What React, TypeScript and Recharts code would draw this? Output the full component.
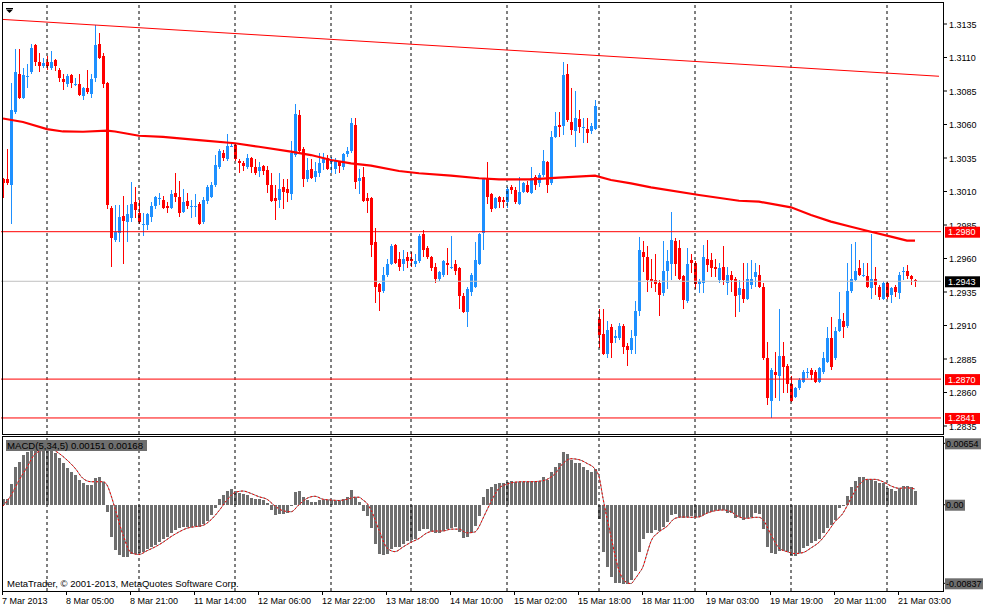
import React from 'react'
import { Bar, ComposedChart, Line, ReferenceLine, XAxis, YAxis } from 'recharts'

// EURUSD H1, 7 Mar 13:00 .. 21 Mar 07:00 2013
const opens = [
  1.3019, 1.3019, 1.3015, 1.3069, 1.3098, 1.3080, 1.3096, 1.3099, 1.3119, 1.3107,
  1.3104, 1.3107, 1.3102, 1.3108, 1.3101, 1.3094, 1.3090, 1.3097, 1.3090, 1.3090,
  1.3081, 1.3087, 1.3083, 1.3095, 1.3120, 1.3111, 1.3091, 1.2998, 1.2974, 1.2979,
  1.2992, 1.2987, 1.2990, 1.3002, 1.2994, 1.2986, 1.2985, 1.2991, 1.2999, 1.3005,
  1.3004, 1.2999, 1.2998, 1.3009, 1.3006, 1.2995, 1.3003, 1.2999, 1.2999, 1.3001,
  1.2987, 1.3003, 1.3006, 1.3015, 1.3028, 1.3039, 1.3034, 1.3044, 1.3045, 1.3033,
  1.3031, 1.3028, 1.3035, 1.3028, 1.3025, 1.3029, 1.3026, 1.3015, 1.3005, 1.3004,
  1.3013, 1.3012, 1.3008, 1.3037, 1.3067, 1.3042, 1.3019, 1.3027, 1.3021, 1.3024,
  1.3031, 1.3035, 1.3032, 1.3027, 1.3032, 1.3028, 1.3038, 1.3040, 1.3060, 1.3018,
  1.3021, 1.3005, 1.3005, 1.2972, 1.2941, 1.2936, 1.2948, 1.2956, 1.2970, 1.2960,
  1.2956, 1.2961, 1.2960, 1.2956, 1.2958, 1.2978, 1.2968, 1.2961, 1.2954, 1.2945,
  1.2948, 1.2957, 1.2954, 1.2956, 1.2953, 1.2932, 1.2920, 1.2935, 1.2939, 1.2956,
  1.2979, 1.3019, 1.3008, 1.2998, 1.3006, 1.3004, 1.3002, 1.3013, 1.3011, 1.3001,
  1.3010, 1.3015, 1.3009, 1.3021, 1.3016, 1.3022, 1.3032, 1.3016, 1.3051, 1.3060,
  1.3059, 1.3098, 1.3062, 1.3055, 1.3064, 1.3058, 1.3057, 1.3055, 1.3057, 1.2915,
  1.2904, 1.2889, 1.2909, 1.2901, 1.2901, 1.2910, 1.2895, 1.2892, 1.2902, 1.2921,
  1.2965, 1.2961, 1.2945, 1.2944, 1.2942, 1.2934, 1.2951, 1.2956, 1.2973, 1.2968,
  1.2947, 1.2928, 1.2959, 1.2957, 1.2941, 1.2942, 1.2960, 1.2959, 1.2954, 1.2944,
  1.2954, 1.2942, 1.2948, 1.2945, 1.2933, 1.2937, 1.2930, 1.2940, 1.2946, 1.2948,
  1.2939, 1.2886, 1.2854, 1.2875, 1.2872, 1.2887, 1.2880, 1.2866, 1.2857, 1.2863,
  1.2868, 1.2875, 1.2877, 1.2875, 1.2868, 1.2875, 1.2883, 1.2901, 1.2886, 1.2906,
  1.2913, 1.2910, 1.2936, 1.2944, 1.2953, 1.2948, 1.2947, 1.2938, 1.2945, 1.2939,
  1.2930, 1.2942, 1.2933, 1.2939, 1.2934, 1.2950, 1.2951, 1.2947, 1.2944,
]

const highs = [
  1.3020, 1.3042, 1.3091, 1.3116, 1.3116, 1.3102, 1.3105, 1.3120, 1.3120, 1.3113,
  1.3110, 1.3111, 1.3115, 1.3109, 1.3102, 1.3098, 1.3098, 1.3098, 1.3095, 1.3098,
  1.3088, 1.3101, 1.3098, 1.3134, 1.3128, 1.3113, 1.3092, 1.2999, 1.3000, 1.3000,
  1.3007, 1.3000, 1.3017, 1.3013, 1.3004, 1.2994, 1.2994, 1.3002, 1.3007, 1.3009,
  1.3007, 1.3002, 1.3011, 1.3024, 1.3018, 1.3012, 1.3009, 1.3004, 1.3008, 1.3002,
  1.3006, 1.3015, 1.3017, 1.3037, 1.3042, 1.3041, 1.3053, 1.3046, 1.3046, 1.3034,
  1.3033, 1.3038, 1.3036, 1.3034, 1.3032, 1.3030, 1.3029, 1.3024, 1.3015, 1.3024,
  1.3019, 1.3019, 1.3048, 1.3075, 1.3071, 1.3043, 1.3035, 1.3034, 1.3032, 1.3039,
  1.3039, 1.3037, 1.3036, 1.3035, 1.3033, 1.3039, 1.3043, 1.3065, 1.3065, 1.3027,
  1.3028, 1.3009, 1.3006, 1.2983, 1.2942, 1.2954, 1.2960, 1.2971, 1.2971, 1.2965,
  1.2966, 1.2965, 1.2965, 1.2963, 1.2978, 1.2981, 1.2969, 1.2962, 1.2957, 1.2951,
  1.2959, 1.2968, 1.2977, 1.2959, 1.2954, 1.2934, 1.2939, 1.2949, 1.2972, 1.2979,
  1.3020, 1.3032, 1.3009, 1.3006, 1.3007, 1.3006, 1.3013, 1.3015, 1.3013, 1.3021,
  1.3017, 1.3018, 1.3028, 1.3022, 1.3024, 1.3041, 1.3033, 1.3055, 1.3069, 1.3069,
  1.3107, 1.3105, 1.3087, 1.3085, 1.3071, 1.3065, 1.3065, 1.3061, 1.3078, 1.2922,
  1.2922, 1.2913, 1.2911, 1.2907, 1.2912, 1.2911, 1.2897, 1.2907, 1.2928, 1.2976,
  1.2973, 1.2969, 1.2960, 1.2963, 1.2944, 1.2973, 1.2966, 1.2995, 1.2975, 1.2974,
  1.2948, 1.2968, 1.2963, 1.2958, 1.2945, 1.2970, 1.2974, 1.2964, 1.2960, 1.2957,
  1.2969, 1.2954, 1.2951, 1.2946, 1.2944, 1.2957, 1.2957, 1.2959, 1.2957, 1.2955,
  1.2942, 1.2898, 1.2878, 1.2890, 1.2922, 1.2898, 1.2881, 1.2872, 1.2864, 1.2871,
  1.2877, 1.2878, 1.2878, 1.2877, 1.2879, 1.2890, 1.2909, 1.2916, 1.2909, 1.2935,
  1.2919, 1.2957, 1.2971, 1.2972, 1.2959, 1.2957, 1.2957, 1.2978, 1.2954, 1.2940,
  1.2943, 1.2943, 1.2939, 1.2940, 1.2950, 1.2954, 1.2955, 1.2948, 1.2945,
]

const lows = [
  1.3005, 1.3015, 1.2986, 1.3068, 1.3079, 1.3079, 1.3087, 1.3098, 1.3104, 1.3099,
  1.3102, 1.3101, 1.3101, 1.3100, 1.3092, 1.3086, 1.3088, 1.3087, 1.3089, 1.3081,
  1.3078, 1.3083, 1.3080, 1.3092, 1.3109, 1.3087, 1.2997, 1.2954, 1.2972, 1.2972,
  1.2956, 1.2972, 1.2987, 1.2990, 1.2986, 1.2977, 1.2981, 1.2987, 1.2997, 1.3000,
  1.2997, 1.2994, 1.2997, 1.3002, 1.2991, 1.2994, 1.2997, 1.2990, 1.2991, 1.2985,
  1.2986, 1.3001, 1.3005, 1.3013, 1.3027, 1.3033, 1.3033, 1.3043, 1.3033, 1.3024,
  1.3025, 1.3027, 1.3024, 1.3022, 1.3021, 1.3022, 1.3009, 1.3002, 1.2989, 1.2998,
  1.2997, 1.3002, 1.3004, 1.3036, 1.3039, 1.3013, 1.3017, 1.3019, 1.3017, 1.3021,
  1.3026, 1.3026, 1.3024, 1.3023, 1.3024, 1.3026, 1.3036, 1.3039, 1.3012, 1.3008,
  1.3002, 1.2994, 1.2961, 1.2927, 1.2921, 1.2934, 1.2946, 1.2955, 1.2956, 1.2951,
  1.2951, 1.2953, 1.2954, 1.2954, 1.2957, 1.2961, 1.2960, 1.2951, 1.2942, 1.2943,
  1.2946, 1.2948, 1.2952, 1.2948, 1.2922, 1.2919, 1.2909, 1.2932, 1.2938, 1.2955,
  1.2966, 1.3001, 1.2995, 1.2997, 1.2998, 1.2998, 1.2998, 1.3008, 1.3001, 1.3000,
  1.3009, 1.3009, 1.3008, 1.3011, 1.3013, 1.3021, 1.3009, 1.3015, 1.3050, 1.3051,
  1.3052, 1.3062, 1.3052, 1.3043, 1.3054, 1.3046, 1.3046, 1.3053, 1.3056, 1.2893,
  1.2888, 1.2886, 1.2886, 1.2897, 1.2899, 1.2889, 1.2880, 1.2889, 1.2889, 1.2917,
  1.2950, 1.2935, 1.2938, 1.2935, 1.2917, 1.2932, 1.2937, 1.2944, 1.2947, 1.2944,
  1.2922, 1.2927, 1.2949, 1.2937, 1.2934, 1.2934, 1.2950, 1.2946, 1.2946, 1.2942,
  1.2940, 1.2933, 1.2935, 1.2916, 1.2920, 1.2927, 1.2929, 1.2937, 1.2939, 1.2938,
  1.2884, 1.2851, 1.2841, 1.2856, 1.2854, 1.2860, 1.2860, 1.2853, 1.2856, 1.2862,
  1.2867, 1.2871, 1.2869, 1.2867, 1.2867, 1.2874, 1.2882, 1.2877, 1.2884, 1.2905,
  1.2901, 1.2908, 1.2934, 1.2943, 1.2947, 1.2946, 1.2938, 1.2930, 1.2933, 1.2929,
  1.2929, 1.2930, 1.2927, 1.2931, 1.2930, 1.2944, 1.2945, 1.2940, 1.2939,
]

const closes = [
  1.3016, 1.3016, 1.3071, 1.3099, 1.3080, 1.3097, 1.3096, 1.3117, 1.3107, 1.3104,
  1.3106, 1.3104, 1.3107, 1.3104, 1.3095, 1.3092, 1.3096, 1.3091, 1.3090, 1.3082,
  1.3087, 1.3084, 1.3094, 1.3119, 1.3110, 1.3090, 1.3000, 1.2975, 1.2980, 1.2991,
  1.2988, 1.2993, 1.3001, 1.2996, 1.2987, 1.2986, 1.2993, 1.2999, 1.3006, 1.3005,
  1.2998, 1.2998, 1.3008, 1.3006, 1.2994, 1.3002, 1.2999, 1.2999, 1.2999, 1.2986,
  1.3004, 1.3013, 1.3015, 1.3030, 1.3040, 1.3035, 1.3044, 1.3044, 1.3034, 1.3031,
  1.3029, 1.3035, 1.3028, 1.3024, 1.3028, 1.3025, 1.3015, 1.3003, 1.3003, 1.3012,
  1.3010, 1.3009, 1.3039, 1.3068, 1.3040, 1.3019, 1.3026, 1.3020, 1.3025, 1.3031,
  1.3034, 1.3027, 1.3033, 1.3033, 1.3029, 1.3038, 1.3040, 1.3061, 1.3017, 1.3020,
  1.3003, 1.3003, 1.2970, 1.2939, 1.2935, 1.2948, 1.2956, 1.2969, 1.2957, 1.2954,
  1.2960, 1.2958, 1.2958, 1.2958, 1.2977, 1.2966, 1.2961, 1.2953, 1.2945, 1.2950,
  1.2958, 1.2955, 1.2954, 1.2951, 1.2932, 1.2920, 1.2937, 1.2948, 1.2959, 1.2978,
  1.3019, 1.3006, 1.2997, 1.3005, 1.3002, 1.3002, 1.3012, 1.3011, 1.3002, 1.3010,
  1.3016, 1.3010, 1.3020, 1.3015, 1.3022, 1.3033, 1.3015, 1.3051, 1.3059, 1.3058,
  1.3097, 1.3063, 1.3056, 1.3065, 1.3058, 1.3058, 1.3054, 1.3059, 1.3074, 1.2903,
  1.2889, 1.2907, 1.2897, 1.2902, 1.2910, 1.2894, 1.2892, 1.2901, 1.2921, 1.2966,
  1.2961, 1.2944, 1.2943, 1.2941, 1.2933, 1.2951, 1.2958, 1.2974, 1.2956, 1.2945,
  1.2929, 1.2956, 1.2957, 1.2941, 1.2943, 1.2961, 1.2955, 1.2953, 1.2952, 1.2953,
  1.2944, 1.2948, 1.2944, 1.2932, 1.2938, 1.2930, 1.2945, 1.2945, 1.2950, 1.2939,
  1.2886, 1.2856, 1.2877, 1.2873, 1.2887, 1.2879, 1.2866, 1.2854, 1.2863, 1.2869,
  1.2875, 1.2875, 1.2873, 1.2868, 1.2878, 1.2886, 1.2901, 1.2879, 1.2906, 1.2915,
  1.2909, 1.2936, 1.2945, 1.2951, 1.2948, 1.2948, 1.2939, 1.2945, 1.2940, 1.2931,
  1.2942, 1.2931, 1.2938, 1.2935, 1.2948, 1.2951, 1.2947, 1.2945, 1.2943,
]

// MACD(5,34,5) main values (histogram)
const macdHist = [
  0.00061, 0.00061, 0.0022, 0.004, 0.00458, 0.0053, 0.00564, 0.0059, 0.0061, 0.006,
  0.006, 0.0059, 0.00575, 0.00547, 0.00494, 0.0044, 0.00388, 0.00352, 0.00316, 0.00263,
  0.00234, 0.0021, 0.0021, 0.0028, 0.003, 0.00245, -0.00075, -0.0034, -0.0048, -0.0054,
  -0.0056, -0.0056, -0.0052, -0.0052, -0.0051, -0.005, -0.00475, -0.00447, -0.0043, -0.004,
  -0.0037, -0.0034, -0.003, -0.0027, -0.0025, -0.0024, -0.00234, -0.00234, -0.00227, -0.00234,
  -0.00206, -0.0017, -0.0011, -0.0003, 0.0006, 0.00103, 0.0015, 0.00164, 0.0015, 0.00121,
  0.00114, 0.00103, 0.00068, 0.00058, 0.00058, 0.0005, 0.00018, -0.00056, -0.0011, -0.001,
  -0.001, -0.0009, -0.00005, 0.0014, 0.00146, 0.0008, 0.0005, 0.0003, 0.0003, 0.0005,
  0.0005, 0.0005, 0.0005, 0.0004, 0.0004, 0.0006, 0.00085, 0.00157, 0.0008, 0.0003,
  -0.00064, -0.00117, -0.0025, -0.0042, -0.0052, -0.0054, -0.0053, -0.00475, -0.0045, -0.00447,
  -0.0042, -0.0039, -0.0038, -0.0036, -0.0028, -0.0026, -0.0026, -0.0028, -0.003, -0.003,
  -0.0028, -0.0026, -0.0025, -0.0024, -0.0029, -0.0035, -0.0034, -0.003, -0.0023, -0.0012,
  0.0008, 0.00167, 0.0019, 0.0022, 0.00234, 0.00234, 0.00245, 0.00256, 0.00245, 0.0024,
  0.00245, 0.00245, 0.0025, 0.0025, 0.00256, 0.0029, 0.0026, 0.00345, 0.004, 0.0044,
  0.0056, 0.00537, 0.00476, 0.0044, 0.0044, 0.004, 0.0037, 0.00352, 0.0038, -0.0015,
  -0.005, -0.0066, -0.0077, -0.0083, -0.0083, -0.00845, -0.00845, -0.008, -0.0071, -0.005,
  -0.0036, -0.003, -0.003, -0.0027, -0.0028, -0.0024, -0.0018, -0.0011, -0.001, -0.0013,
  -0.00145, -0.00134, -0.0012, -0.0013, -0.0013, -0.0011, -0.0009, -0.00075, -0.00056, -0.00056,
  -0.0006, -0.00085, -0.00085, -0.00145, -0.0013, -0.0016, -0.00145, -0.0013, -0.0009, -0.001,
  -0.0026, -0.00447, -0.0051, -0.0052, -0.0049, -0.0049, -0.005, -0.0055, -0.0055, -0.0051,
  -0.0046, -0.0044, -0.0041, -0.0039, -0.0036, -0.003, -0.0025, -0.0022, -0.0016, -0.0004,
  -0.0001, 0.0009, 0.0019, 0.00256, 0.0029, 0.003, 0.0027, 0.0027, 0.00256, 0.0023,
  0.0023, 0.00175, 0.00164, 0.0015, 0.00175, 0.002, 0.002, 0.0019, 0.00151,
]

// signal line, read at [bar, value]
const signalPoints: [number, number][] = [
  [0, -0.00014], [2, 0.001], [4, 0.0026], [6, 0.004], [8, 0.0054], [10, 0.0058], [12, 0.0059],
  [14, 0.00547], [16, 0.00476], [18, 0.0039], [20, 0.0028], [22, 0.00245], [25, 0.00245],
  [26, 0.0021], [27, 0.001], [28, -0.0004], [30, -0.0032], [32, -0.0051], [34, -0.0053],
  [36, -0.0049], [38, -0.0045], [40, -0.004], [42, -0.0034], [44, -0.0029], [46, -0.0025],
  [48, -0.00234], [50, -0.0022], [52, -0.0016], [54, -0.00064], [56, 0.0005], [58, 0.0013],
  [60, 0.00146], [62, 0.0012], [64, 0.00085], [66, 0.00058], [68, -0.00014], [70, -0.00064],
  [72, -0.00075], [74, 0], [76, 0.00068], [78, 0.0009], [80, 0.00058], [82, 0.0005],
  [84, 0.00045], [86, 0.00058], [88, 0.0008], [89, 0.0008], [90, 0.0005], [91, 0.00015],
  [92, -0.00056], [94, -0.0027], [96, -0.0046], [98, -0.005], [100, -0.0045], [102, -0.004],
  [104, -0.0036], [106, -0.003], [108, -0.0028], [110, -0.0028], [112, -0.0026], [114, -0.0026],
  [116, -0.003], [118, -0.0029], [119, -0.00234], [120, -0.00145], [122, 0.0003], [124, 0.00175],
  [126, 0.0022], [128, 0.0024], [130, 0.00245], [132, 0.00245], [134, 0.0025], [136, 0.0027],
  [138, 0.0033], [140, 0.0044], [142, 0.0049], [144, 0.0048], [146, 0.0044], [148, 0.0038],
  [149, 0.003], [150, 0.00068], [152, -0.0034], [154, -0.007], [156, -0.0083], [157, -0.0084],
  [158, -0.0079], [159, -0.0073], [160, -0.0066], [161, -0.0052], [162, -0.0039], [164, -0.0029],
  [166, -0.0023], [168, -0.00145], [170, -0.0013], [172, -0.00134], [174, -0.0013], [176, -0.0009],
  [178, -0.00064], [180, -0.00056], [182, -0.00075], [184, -0.0013], [186, -0.00145], [188, -0.00134],
  [189, -0.00134], [190, -0.0016], [192, -0.0032], [194, -0.0046], [196, -0.005], [198, -0.0052],
  [200, -0.0051], [202, -0.0046], [204, -0.004], [206, -0.003], [208, -0.0018], [210, -0.0009],
  [211, -0.00014], [212, 0.00068], [214, 0.0021], [216, 0.0027], [218, 0.0027], [220, 0.00245],
  [222, 0.002], [224, 0.00175], [226, 0.0018], [228, 0.00168],
]

// slow moving average, read at [bar, price]
const maPoints: [number, number][] = [
  [0, 1.30645], [5, 1.30619], [11, 1.30566], [15, 1.30548], [20, 1.30546], [26, 1.30554],
  [28, 1.30548], [34, 1.30516], [40, 1.30507], [49, 1.30484], [58, 1.3046], [64, 1.30434],
  [72, 1.30397], [77, 1.30372], [82, 1.30335], [87, 1.3031], [92, 1.30293], [99, 1.30253],
  [104, 1.30236], [112, 1.30218], [119, 1.30199], [124, 1.30191], [132, 1.30191], [139, 1.30203],
  [148, 1.30218], [152, 1.30186], [157, 1.30161], [162, 1.30131], [174, 1.30074], [184, 1.30031],
  [189, 1.30024], [197, 1.29982], [202, 1.29925], [207, 1.29875], [212, 1.29837], [217, 1.298],
  [222, 1.29763], [226, 1.29734], [228, 1.29733],
]

const trendStart = 1.31384
const trendEnd = 1.3096

const priceTicks = [1.3135, 1.311, 1.3085, 1.306, 1.3035, 1.301, 1.2985, 1.296, 1.2935, 1.291, 1.2885, 1.286, 1.2835]
const redLevels = [1.298, 1.287, 1.2841]
const lastPrice = 1.2943

const macdTicks = [0.00654, 0, -0.00837]
const macdTickText = ['0.00654', '0.00', '-0.00837']
const macdTagWidth = [36, 20, 38]

const dayStarts = [11, 34, 58, 82, 102, 126, 149, 173, 197, 221]
const timeTickIdx = [0, 16, 32, 48, 64, 80, 96, 112, 128, 144, 160, 176, 192, 208, 224]
const timeLabels = [
  '7 Mar 2013', '8 Mar 05:00', '8 Mar 21:00', '11 Mar 14:00', '12 Mar 06:00', '12 Mar 22:00',
  '13 Mar 18:00', '14 Mar 10:00', '15 Mar 02:00', '15 Mar 18:00', '18 Mar 11:00', '19 Mar 03:00',
  '19 Mar 19:00', '20 Mar 11:00', '21 Mar 03:00',
]

const SLOTS = 235
const FONT = '"Liberation Sans", Arial, sans-serif'
const BULL = '#1e90ff'
const BEAR = '#ff0000'
const HIST = '#6e6e6e'

const maMap = new Map(maPoints)
const sigMap = new Map(signalPoints)

const rows = Array.from({ length: SLOTS }, (_, i) => {
  const has = i < opens.length
  return {
    i,
    open: has ? opens[i] : null,
    close: has ? closes[i] : null,
    range: has
      ? [Math.min(lows[i], opens[i], closes[i]), Math.max(highs[i], opens[i], closes[i])]
      : null,
    ma: maMap.has(i) ? maMap.get(i) : null,
    trend: i === 0 ? trendStart : i === SLOTS - 1 ? trendEnd : null,
    macd: has ? macdHist[i] : null,
    signal: sigMap.has(i) ? sigMap.get(i) : null,
  }
})

const Candle = (props: any) => {
  const d = props.payload ?? rows[props.index]
  if (!d || d.open == null || props.y == null) return <g />
  const top = Math.min(props.y, props.y + props.height)
  const h = Math.abs(props.height)
  const [lo, hi] = d.range
  const k = hi > lo ? h / (hi - lo) : 0
  const yO = top + (hi - d.open) * k
  const yC = top + (hi - d.close) * k
  const color = d.close >= d.open ? BULL : BEAR
  const bx = Math.round(props.x)
  return (
    <g shapeRendering="crispEdges">
      <rect x={bx + 2} y={top} width={1} height={Math.max(1, h)} fill={color} />
      <rect x={bx + 1} y={Math.min(yO, yC)} width={3} height={Math.max(1, Math.abs(yO - yC))} fill={color} />
    </g>
  )
}

const HistBar = (props: any) => {
  if (props.y == null || props.height == null) return <g />
  const top = Math.min(props.y, props.y + props.height)
  const h = Math.abs(props.height)
  return <rect x={Math.round(props.x) + 1} y={top} width={3} height={Math.max(1, h)} fill={HIST} shapeRendering="crispEdges" />
}

const PriceTick = (props: any) => {
  const { y, payload } = props
  const v = payload.value as number
  const label = v.toFixed(4)
  const isRed = redLevels.some((l) => Math.abs(l - v) < 1e-7)
  const isLast = Math.abs(lastPrice - v) < 1e-7
  if (isRed || isLast) {
    return (
      <g>
        <rect x={945} y={y - 5} width={35} height={11} fill={isRed ? '#ff0000' : '#000'} />
        <text x={948} y={y + 3.5} fill="#fff" fontSize={9} fontFamily={FONT}>{label}</text>
      </g>
    )
  }
  return (
    <g>
      <line x1={943} x2={947} y1={y} y2={y} stroke="#000" />
      <text x={949} y={y + 3.5} fill="#000" fontSize={9} fontFamily={FONT}>{label}</text>
    </g>
  )
}

const MacdTick = (props: any) => {
  const { y, payload } = props
  const k = macdTicks.findIndex((t) => Math.abs(t - payload.value) < 1e-9)
  if (k < 0) return <g />
  return (
    <g>
      <line x1={943} x2={946} y1={y} y2={y} stroke="#000" />
      <rect x={945} y={y - 5} width={macdTagWidth[k]} height={11} fill={HIST} />
      <text x={946} y={y + 3.5} fill="#000" fontSize={9} fontFamily={FONT}>{macdTickText[k]}</text>
    </g>
  )
}

const TimeTick = (props: any) => {
  const { x, payload } = props
  const k = timeTickIdx.indexOf(payload.value)
  if (k < 0) return <g />
  const tx = Math.round(x) - 1
  return (
    <g>
      <line x1={tx + 0.5} x2={tx + 0.5} y1={155} y2={159} stroke="#000" />
      <text x={tx} y={168} fill="#000" fontSize={9} fontFamily={FONT}>{timeLabels[k]}</text>
    </g>
  )
}

const gridLines = (chart: string) =>
  dayStarts.map((g) => (
    <ReferenceLine key={`${chart}-${g}`} x={g} stroke="#000" strokeDasharray="3 3" />
  ))

export default function App() {
  return (
    <div style={{ position: 'absolute', left: 0, top: 0, width: 983, height: 609, background: '#fff', overflow: 'hidden' }}>
      <div style={{ position: 'absolute', left: 0, top: 0 }}>
        <ComposedChart width={983} height={434} data={rows} margin={{ top: 2, right: 0, bottom: 0, left: 1 }} barCategoryGap={0} barGap={0}>
          <XAxis dataKey="i" type="category" hide />
          <YAxis
            orientation="right"
            width={42}
            type="number"
            domain={[1.282903, 1.315142]}
            allowDataOverflow
            ticks={[...priceTicks, lastPrice, ...redLevels]}
            interval={0}
            tick={PriceTick}
            axisLine={false}
            tickLine={false}
          />
          {gridLines('main')}
          <ReferenceLine y={lastPrice} stroke="#c0c0c0" />
          <Bar dataKey="range" shape={Candle} isAnimationActive={false} />
          {redLevels.map((l) => (
            <ReferenceLine key={l} y={l} stroke="#ff0000" />
          ))}
          <Line dataKey="trend" type="linear" stroke="#ff0000" strokeWidth={1} dot={false} activeDot={false} connectNulls isAnimationActive={false} />
          <Line dataKey="ma" type="linear" stroke="#ff0000" strokeWidth={2.2} dot={false} activeDot={false} connectNulls isAnimationActive={false} />
        </ComposedChart>
      </div>

      <div style={{ position: 'absolute', left: 0, top: 436 }}>
        <ComposedChart width={983} height={173} data={rows} margin={{ top: 0, right: 0, bottom: 0, left: 1 }} barCategoryGap={0} barGap={0}>
          <XAxis dataKey="i" type="category" height={18} interval={15} tick={TimeTick} axisLine={false} tickLine={false} />
          <YAxis
            orientation="right"
            width={42}
            type="number"
            domain={[-0.00919, 0.00732]}
            allowDataOverflow
            ticks={macdTicks}
            interval={0}
            tick={MacdTick}
            axisLine={false}
            tickLine={false}
          />
          {gridLines('macd')}
          <Bar dataKey="macd" shape={HistBar} isAnimationActive={false} />
          <Line dataKey="signal" type="monotone" stroke="#808080" strokeWidth={1} dot={false} activeDot={false} connectNulls isAnimationActive={false} />
          <Line dataKey="signal" type="monotone" stroke="#ff0000" strokeWidth={1} strokeDasharray="2 2" dot={false} activeDot={false} connectNulls isAnimationActive={false} />
        </ComposedChart>
      </div>

      {/* panel frames */}
      <div style={{ position: 'absolute', left: 2, top: 2, width: 942, height: 433, border: '1px solid #000', boxSizing: 'border-box', pointerEvents: 'none' }} />
      <div style={{ position: 'absolute', left: 2, top: 436, width: 942, height: 156, border: '1px solid #000', boxSizing: 'border-box', pointerEvents: 'none' }} />

      {/* one-click trading arrow */}
      <svg style={{ position: 'absolute', left: 5, top: 8 }} width={9} height={6}>
        <rect x={1} y={0} width={7} height={1} fill="#000" />
        <polygon points="1,1.5 8,1.5 4.5,5" fill="#000" />
      </svg>

      <div style={{ position: 'absolute', left: 6, top: 440, width: 141, height: 11, background: HIST, fontFamily: FONT, fontSize: 9.6, lineHeight: '11px', color: '#000', paddingLeft: 1, boxSizing: 'border-box', whiteSpace: 'nowrap', overflow: 'hidden' }}>
        MACD(5,34,5) 0.00151 0.00168
      </div>
      <div style={{ position: 'absolute', left: 7, top: 578, fontFamily: FONT, fontSize: 9.5, lineHeight: '11px', color: '#000', whiteSpace: 'nowrap' }}>
        MetaTrader, © 2001-2013, MetaQuotes Software Corp.
      </div>
    </div>
  )
}
